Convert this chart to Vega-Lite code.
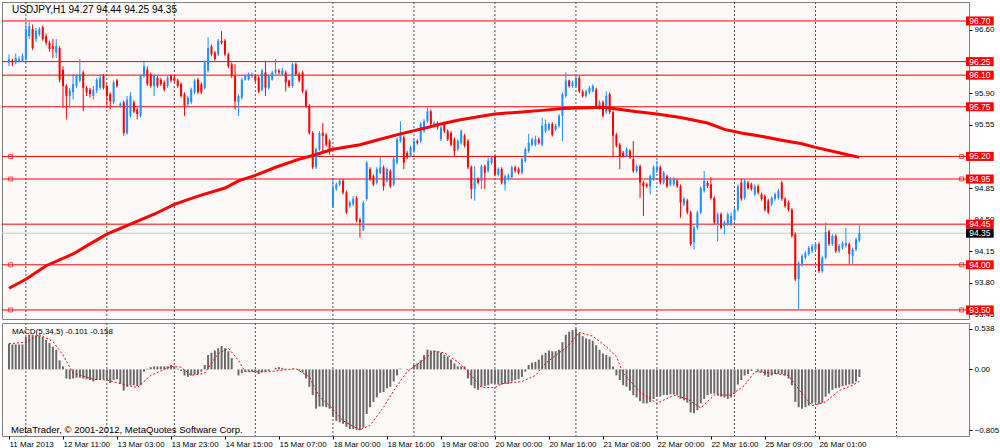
{
  "$schema": "https://vega.github.io/schema/vega-lite/v6.json",
  "description": "USDJPY H1 candlestick chart with MA and MACD(5,34,5) panel, MetaTrader style.",
  "background": "#ffffff",
  "padding": {"left": 1, "top": 1, "right": 0, "bottom": 0},
  "spacing": 2,
  "config": {
    "view": {"stroke": "#808080", "fill": "#fdf9f9"},
    "axis": {"labelFont": "Liberation Sans", "labelFontSize": 8, "labelColor": "#000000", "domain": false, "ticks": true, "tickColor": "#000000", "tickSize": 3, "grid": false},
    "text": {"font": "Liberation Sans"}
  },
  "datasets": {
    "k": [
      {"i":0,"o":96.24,"h":96.33,"l":96.20,"c":96.28,"m":0.34},
      {"i":1,"o":96.26,"h":96.28,"l":96.20,"c":96.24,"m":0.33},
      {"i":2,"o":96.24,"h":96.34,"l":96.22,"c":96.29,"m":0.33},
      {"i":3,"o":96.26,"h":96.31,"l":96.24,"c":96.28,"m":0.33},
      {"i":4,"o":96.26,"h":96.34,"l":96.25,"c":96.31,"m":0.33},
      {"i":5,"o":96.28,"h":96.68,"l":96.26,"c":96.61,"m":0.43},
      {"i":6,"o":96.53,"h":96.69,"l":96.50,"c":96.64,"m":0.46},
      {"i":7,"o":96.61,"h":96.66,"l":96.38,"c":96.40,"m":0.46},
      {"i":8,"o":96.50,"h":96.62,"l":96.47,"c":96.59,"m":0.45},
      {"i":9,"o":96.55,"h":96.63,"l":96.53,"c":96.61,"m":0.45},
      {"i":10,"o":96.63,"h":96.65,"l":96.48,"c":96.50,"m":0.43},
      {"i":11,"o":96.53,"h":96.56,"l":96.43,"c":96.46,"m":0.39},
      {"i":12,"o":96.46,"h":96.48,"l":96.36,"c":96.39,"m":0.35},
      {"i":13,"o":96.42,"h":96.50,"l":96.29,"c":96.39,"m":0.30},
      {"i":14,"o":96.35,"h":96.50,"l":96.29,"c":96.42,"m":0.26},
      {"i":15,"o":96.40,"h":96.42,"l":96.02,"c":96.05,"m":0.12},
      {"i":16,"o":96.16,"h":96.20,"l":95.74,"c":95.98,"m":0.04},
      {"i":17,"o":95.98,"h":96.00,"l":95.61,"c":95.87,"m":-0.12},
      {"i":18,"o":95.87,"h":95.96,"l":95.74,"c":95.93,"m":-0.13},
      {"i":19,"o":95.91,"h":96.11,"l":95.83,"c":96.00,"m":-0.12},
      {"i":20,"o":95.98,"h":96.11,"l":95.96,"c":96.09,"m":-0.11},
      {"i":21,"o":96.04,"h":96.28,"l":96.02,"c":96.11,"m":-0.11},
      {"i":22,"o":96.13,"h":96.15,"l":95.70,"c":95.96,"m":-0.12},
      {"i":23,"o":95.96,"h":95.98,"l":95.87,"c":95.91,"m":-0.13},
      {"i":24,"o":95.94,"h":95.96,"l":95.85,"c":95.89,"m":-0.14},
      {"i":25,"o":95.87,"h":95.98,"l":95.83,"c":95.94,"m":-0.16},
      {"i":26,"o":95.93,"h":96.07,"l":95.90,"c":96.05,"m":-0.14},
      {"i":27,"o":95.96,"h":96.11,"l":95.94,"c":96.07,"m":-0.13},
      {"i":28,"o":96.09,"h":96.11,"l":95.94,"c":95.96,"m":-0.13},
      {"i":29,"o":95.98,"h":96.00,"l":95.74,"c":95.87,"m":-0.14},
      {"i":30,"o":95.89,"h":95.91,"l":95.72,"c":95.81,"m":-0.18},
      {"i":31,"o":95.80,"h":96.04,"l":95.78,"c":96.02,"m":-0.14},
      {"i":32,"o":96.04,"h":96.06,"l":95.96,"c":95.98,"m":-0.13},
      {"i":33,"o":95.76,"h":95.80,"l":95.74,"c":95.78,"m":-0.19},
      {"i":34,"o":95.80,"h":95.82,"l":95.43,"c":95.46,"m":-0.28},
      {"i":35,"o":95.46,"h":95.87,"l":95.44,"c":95.83,"m":-0.23},
      {"i":36,"o":95.65,"h":95.91,"l":95.63,"c":95.87,"m":-0.21},
      {"i":37,"o":95.80,"h":95.82,"l":95.68,"c":95.70,"m":-0.21},
      {"i":38,"o":95.72,"h":95.74,"l":95.61,"c":95.67,"m":-0.22},
      {"i":39,"o":95.65,"h":96.11,"l":95.63,"c":96.09,"m":-0.21},
      {"i":40,"o":96.09,"h":96.26,"l":96.07,"c":96.20,"m":-0.03},
      {"i":41,"o":96.16,"h":96.20,"l":95.98,"c":96.00,"m":0.01},
      {"i":42,"o":96.11,"h":96.13,"l":95.96,"c":95.98,"m":0.03},
      {"i":43,"o":95.98,"h":96.11,"l":95.87,"c":96.09,"m":0.04},
      {"i":44,"o":96.07,"h":96.09,"l":95.96,"c":95.98,"m":0.04},
      {"i":45,"o":96.05,"h":96.07,"l":95.98,"c":96.00,"m":0.04},
      {"i":46,"o":96.02,"h":96.04,"l":95.92,"c":95.94,"m":0.04},
      {"i":47,"o":95.98,"h":96.09,"l":95.96,"c":96.07,"m":0.04},
      {"i":48,"o":96.09,"h":96.11,"l":96.02,"c":96.04,"m":0.06},
      {"i":49,"o":96.07,"h":96.09,"l":96.02,"c":96.04,"m":0.04},
      {"i":50,"o":96.04,"h":96.06,"l":95.96,"c":95.98,"m":0.01},
      {"i":51,"o":96.00,"h":96.02,"l":95.85,"c":95.87,"m":-0.02},
      {"i":52,"o":95.89,"h":95.91,"l":95.65,"c":95.76,"m":-0.08},
      {"i":53,"o":95.78,"h":95.87,"l":95.76,"c":95.85,"m":-0.10},
      {"i":54,"o":95.80,"h":95.96,"l":95.78,"c":95.94,"m":-0.08},
      {"i":55,"o":95.91,"h":96.06,"l":95.89,"c":96.04,"m":-0.07},
      {"i":56,"o":96.05,"h":96.07,"l":95.89,"c":95.91,"m":-0.06},
      {"i":57,"o":96.00,"h":96.02,"l":95.89,"c":95.91,"m":-0.03},
      {"i":58,"o":95.96,"h":96.26,"l":95.94,"c":96.24,"m":0.06},
      {"i":59,"o":96.15,"h":96.52,"l":96.13,"c":96.40,"m":0.19},
      {"i":60,"o":96.42,"h":96.44,"l":96.31,"c":96.33,"m":0.22},
      {"i":61,"o":96.35,"h":96.37,"l":96.26,"c":96.28,"m":0.25},
      {"i":62,"o":96.33,"h":96.50,"l":96.31,"c":96.48,"m":0.28},
      {"i":63,"o":96.48,"h":96.59,"l":96.44,"c":96.46,"m":0.31},
      {"i":64,"o":96.48,"h":96.50,"l":96.31,"c":96.33,"m":0.28},
      {"i":65,"o":96.33,"h":96.35,"l":96.18,"c":96.20,"m":0.24},
      {"i":66,"o":96.22,"h":96.24,"l":96.07,"c":96.09,"m":0.15},
      {"i":67,"o":96.09,"h":96.22,"l":95.72,"c":95.81,"m":0.00},
      {"i":68,"o":95.80,"h":95.89,"l":95.65,"c":95.87,"m":-0.08},
      {"i":69,"o":95.85,"h":96.07,"l":95.83,"c":96.05,"m":-0.05},
      {"i":70,"o":96.05,"h":96.11,"l":96.04,"c":96.09,"m":-0.03},
      {"i":71,"o":96.05,"h":96.13,"l":96.04,"c":96.11,"m":-0.03},
      {"i":72,"o":96.09,"h":96.13,"l":96.07,"c":96.11,"m":-0.03},
      {"i":73,"o":96.09,"h":96.11,"l":96.02,"c":96.04,"m":-0.04},
      {"i":74,"o":96.07,"h":96.09,"l":95.90,"c":95.92,"m":-0.06},
      {"i":75,"o":95.94,"h":96.17,"l":95.92,"c":96.15,"m":-0.04},
      {"i":76,"o":96.13,"h":96.26,"l":95.87,"c":95.96,"m":-0.03},
      {"i":77,"o":95.96,"h":96.11,"l":95.94,"c":96.09,"m":-0.02},
      {"i":78,"o":96.05,"h":96.15,"l":96.04,"c":96.13,"m":0.00},
      {"i":79,"o":96.13,"h":96.28,"l":96.11,"c":96.16,"m":0.02},
      {"i":80,"o":96.15,"h":96.17,"l":96.11,"c":96.13,"m":0.03},
      {"i":81,"o":96.11,"h":96.18,"l":96.09,"c":96.15,"m":0.02},
      {"i":82,"o":96.13,"h":96.15,"l":95.92,"c":96.02,"m":0.01},
      {"i":83,"o":96.04,"h":96.05,"l":95.96,"c":95.98,"m":0.00},
      {"i":84,"o":95.98,"h":96.24,"l":95.96,"c":96.22,"m":0.01},
      {"i":85,"o":96.22,"h":96.24,"l":96.09,"c":96.11,"m":0.00},
      {"i":86,"o":96.11,"h":96.13,"l":96.02,"c":96.04,"m":-0.02},
      {"i":87,"o":96.13,"h":96.15,"l":95.90,"c":95.92,"m":-0.04},
      {"i":88,"o":95.92,"h":95.94,"l":95.74,"c":95.76,"m":-0.12},
      {"i":89,"o":95.76,"h":95.78,"l":95.44,"c":95.46,"m":-0.23},
      {"i":90,"o":95.46,"h":95.48,"l":95.06,"c":95.08,"m":-0.34},
      {"i":91,"o":95.08,"h":95.30,"l":95.06,"c":95.28,"m":-0.52},
      {"i":92,"o":95.28,"h":95.48,"l":95.26,"c":95.46,"m":-0.49},
      {"i":93,"o":95.46,"h":95.57,"l":95.24,"c":95.43,"m":-0.49},
      {"i":94,"o":95.44,"h":95.46,"l":95.31,"c":95.33,"m":-0.50},
      {"i":95,"o":95.37,"h":95.39,"l":95.22,"c":95.28,"m":-0.52},
      {"i":96,"o":94.65,"h":94.96,"l":94.63,"c":94.85,"m":-0.63},
      {"i":97,"o":94.84,"h":94.91,"l":94.82,"c":94.89,"m":-0.68},
      {"i":98,"o":94.89,"h":94.95,"l":94.87,"c":94.93,"m":-0.70},
      {"i":99,"o":94.93,"h":94.95,"l":94.78,"c":94.80,"m":-0.72},
      {"i":100,"o":94.80,"h":94.82,"l":94.56,"c":94.58,"m":-0.76},
      {"i":101,"o":94.65,"h":94.71,"l":94.63,"c":94.69,"m":-0.79},
      {"i":102,"o":94.67,"h":94.76,"l":94.65,"c":94.73,"m":-0.79},
      {"i":103,"o":94.74,"h":94.76,"l":94.47,"c":94.49,"m":-0.80},
      {"i":104,"o":94.50,"h":94.52,"l":94.30,"c":94.47,"m":-0.805},
      {"i":105,"o":94.39,"h":94.71,"l":94.37,"c":94.69,"m":-0.77},
      {"i":106,"o":94.73,"h":95.15,"l":94.71,"c":95.13,"m":-0.59},
      {"i":107,"o":95.06,"h":95.08,"l":94.93,"c":94.95,"m":-0.50},
      {"i":108,"o":94.98,"h":95.00,"l":94.87,"c":94.89,"m":-0.43},
      {"i":109,"o":94.91,"h":95.08,"l":94.89,"c":95.06,"m":-0.37},
      {"i":110,"o":95.02,"h":95.19,"l":95.00,"c":95.08,"m":-0.31},
      {"i":111,"o":95.08,"h":95.10,"l":94.82,"c":94.87,"m":-0.30},
      {"i":112,"o":94.93,"h":95.08,"l":94.91,"c":95.06,"m":-0.25},
      {"i":113,"o":95.04,"h":95.06,"l":94.85,"c":94.87,"m":-0.23},
      {"i":114,"o":94.89,"h":95.19,"l":94.87,"c":95.17,"m":-0.16},
      {"i":115,"o":95.13,"h":95.41,"l":95.11,"c":95.39,"m":-0.08},
      {"i":116,"o":95.37,"h":95.59,"l":95.35,"c":95.46,"m":0.01},
      {"i":117,"o":95.41,"h":95.43,"l":95.06,"c":95.13,"m":0.00},
      {"i":118,"o":95.24,"h":95.26,"l":95.17,"c":95.19,"m":-0.01},
      {"i":119,"o":95.20,"h":95.32,"l":95.19,"c":95.30,"m":0.01},
      {"i":120,"o":95.26,"h":95.39,"l":95.24,"c":95.37,"m":0.06},
      {"i":121,"o":95.37,"h":95.39,"l":95.33,"c":95.35,"m":0.08},
      {"i":122,"o":95.37,"h":95.58,"l":95.35,"c":95.56,"m":0.12},
      {"i":123,"o":95.48,"h":95.61,"l":95.46,"c":95.59,"m":0.19},
      {"i":124,"o":95.59,"h":95.74,"l":95.57,"c":95.70,"m":0.26},
      {"i":125,"o":95.70,"h":95.72,"l":95.54,"c":95.56,"m":0.25},
      {"i":126,"o":95.54,"h":95.59,"l":95.52,"c":95.57,"m":0.25},
      {"i":127,"o":95.57,"h":95.59,"l":95.50,"c":95.52,"m":0.24},
      {"i":128,"o":95.39,"h":95.54,"l":95.37,"c":95.52,"m":0.22},
      {"i":129,"o":95.56,"h":95.58,"l":95.46,"c":95.48,"m":0.19},
      {"i":130,"o":95.48,"h":95.50,"l":95.37,"c":95.39,"m":0.17},
      {"i":131,"o":95.46,"h":95.48,"l":95.31,"c":95.33,"m":0.13},
      {"i":132,"o":95.39,"h":95.41,"l":95.20,"c":95.26,"m":0.08},
      {"i":133,"o":95.28,"h":95.39,"l":95.26,"c":95.37,"m":0.04},
      {"i":134,"o":95.35,"h":95.50,"l":95.33,"c":95.48,"m":0.04},
      {"i":135,"o":95.43,"h":95.45,"l":95.30,"c":95.32,"m":0.04},
      {"i":136,"o":95.37,"h":95.39,"l":95.06,"c":95.08,"m":-0.12},
      {"i":137,"o":95.08,"h":95.10,"l":94.73,"c":94.84,"m":-0.21},
      {"i":138,"o":94.84,"h":95.09,"l":94.71,"c":94.95,"m":-0.25},
      {"i":139,"o":94.95,"h":94.97,"l":94.89,"c":94.91,"m":-0.27},
      {"i":140,"o":94.93,"h":95.11,"l":94.84,"c":95.09,"m":-0.23},
      {"i":141,"o":95.09,"h":95.11,"l":94.84,"c":95.02,"m":-0.22},
      {"i":142,"o":95.04,"h":95.19,"l":95.02,"c":95.15,"m":-0.21},
      {"i":143,"o":95.13,"h":95.20,"l":95.11,"c":95.19,"m":-0.19},
      {"i":144,"o":95.20,"h":95.22,"l":94.98,"c":95.00,"m":-0.19},
      {"i":145,"o":95.00,"h":95.08,"l":94.98,"c":95.06,"m":-0.20},
      {"i":146,"o":95.06,"h":95.08,"l":94.89,"c":94.91,"m":-0.20},
      {"i":147,"o":94.89,"h":95.00,"l":94.82,"c":94.98,"m":-0.19},
      {"i":148,"o":94.95,"h":95.01,"l":94.93,"c":94.99,"m":-0.19},
      {"i":149,"o":94.97,"h":95.10,"l":94.95,"c":95.08,"m":-0.16},
      {"i":150,"o":95.08,"h":95.10,"l":95.02,"c":95.04,"m":-0.14},
      {"i":151,"o":95.06,"h":95.08,"l":95.00,"c":95.02,"m":-0.13},
      {"i":152,"o":95.02,"h":95.19,"l":95.00,"c":95.17,"m":-0.10},
      {"i":153,"o":95.15,"h":95.30,"l":95.13,"c":95.28,"m":-0.03},
      {"i":154,"o":95.26,"h":95.45,"l":95.24,"c":95.35,"m":0.06},
      {"i":155,"o":95.33,"h":95.41,"l":95.31,"c":95.39,"m":0.09},
      {"i":156,"o":95.33,"h":95.43,"l":95.31,"c":95.39,"m":0.10},
      {"i":157,"o":95.39,"h":95.41,"l":95.33,"c":95.35,"m":0.13},
      {"i":158,"o":95.33,"h":95.63,"l":95.31,"c":95.54,"m":0.19},
      {"i":159,"o":95.48,"h":95.61,"l":95.46,"c":95.56,"m":0.22},
      {"i":160,"o":95.50,"h":95.58,"l":95.48,"c":95.56,"m":0.25},
      {"i":161,"o":95.56,"h":95.58,"l":95.42,"c":95.44,"m":0.24},
      {"i":162,"o":95.50,"h":95.56,"l":95.48,"c":95.54,"m":0.24},
      {"i":163,"o":95.54,"h":95.67,"l":95.52,"c":95.65,"m":0.26},
      {"i":164,"o":95.65,"h":95.91,"l":95.37,"c":95.89,"m":0.36},
      {"i":165,"o":95.87,"h":96.13,"l":95.85,"c":96.04,"m":0.46},
      {"i":166,"o":96.04,"h":96.05,"l":95.96,"c":95.98,"m":0.50},
      {"i":167,"o":95.98,"h":96.04,"l":95.96,"c":96.02,"m":0.52},
      {"i":168,"o":95.98,"h":96.11,"l":95.96,"c":96.07,"m":0.538},
      {"i":169,"o":96.07,"h":96.09,"l":95.90,"c":95.92,"m":0.48},
      {"i":170,"o":95.92,"h":95.94,"l":95.85,"c":95.87,"m":0.44},
      {"i":171,"o":95.87,"h":95.94,"l":95.85,"c":95.92,"m":0.41},
      {"i":172,"o":95.91,"h":95.98,"l":95.89,"c":95.96,"m":0.40},
      {"i":173,"o":95.92,"h":96.00,"l":95.91,"c":95.98,"m":0.38},
      {"i":174,"o":95.94,"h":95.96,"l":95.74,"c":95.76,"m":0.32},
      {"i":175,"o":95.74,"h":95.82,"l":95.72,"c":95.80,"m":0.26},
      {"i":176,"o":95.80,"h":95.82,"l":95.63,"c":95.65,"m":0.21},
      {"i":177,"o":95.69,"h":95.92,"l":95.67,"c":95.87,"m":0.19},
      {"i":178,"o":95.89,"h":95.91,"l":95.67,"c":95.69,"m":0.17},
      {"i":179,"o":95.69,"h":95.71,"l":95.19,"c":95.43,"m":0.04},
      {"i":180,"o":95.44,"h":95.46,"l":95.30,"c":95.32,"m":-0.08},
      {"i":181,"o":95.33,"h":95.35,"l":95.06,"c":95.20,"m":-0.14},
      {"i":182,"o":95.24,"h":95.26,"l":95.19,"c":95.20,"m":-0.21},
      {"i":183,"o":95.20,"h":95.30,"l":95.19,"c":95.28,"m":-0.23},
      {"i":184,"o":95.26,"h":95.28,"l":95.17,"c":95.19,"m":-0.28},
      {"i":185,"o":95.17,"h":95.37,"l":95.02,"c":95.04,"m":-0.34},
      {"i":186,"o":95.04,"h":95.11,"l":95.02,"c":95.09,"m":-0.37},
      {"i":187,"o":95.09,"h":95.11,"l":94.74,"c":94.91,"m":-0.42},
      {"i":188,"o":94.91,"h":94.93,"l":94.54,"c":94.87,"m":-0.45},
      {"i":189,"o":94.89,"h":94.91,"l":94.85,"c":94.87,"m":-0.45},
      {"i":190,"o":94.87,"h":95.00,"l":94.78,"c":94.98,"m":-0.43},
      {"i":191,"o":94.95,"h":95.10,"l":94.93,"c":95.08,"m":-0.39},
      {"i":192,"o":95.04,"h":95.15,"l":95.02,"c":95.08,"m":-0.36},
      {"i":193,"o":95.08,"h":95.10,"l":94.89,"c":94.91,"m":-0.36},
      {"i":194,"o":94.91,"h":95.04,"l":94.89,"c":95.02,"m":-0.34},
      {"i":195,"o":94.98,"h":95.00,"l":94.85,"c":94.87,"m":-0.34},
      {"i":196,"o":94.89,"h":94.97,"l":94.87,"c":94.95,"m":-0.33},
      {"i":197,"o":94.89,"h":94.97,"l":94.87,"c":94.95,"m":-0.33},
      {"i":198,"o":94.93,"h":94.95,"l":94.85,"c":94.87,"m":-0.34},
      {"i":199,"o":94.87,"h":94.89,"l":94.52,"c":94.69,"m":-0.39},
      {"i":200,"o":94.67,"h":94.75,"l":94.65,"c":94.73,"m":-0.41},
      {"i":201,"o":94.71,"h":94.73,"l":94.56,"c":94.58,"m":-0.44},
      {"i":202,"o":94.58,"h":94.60,"l":94.21,"c":94.23,"m":-0.57},
      {"i":203,"o":94.25,"h":94.43,"l":94.17,"c":94.41,"m":-0.58},
      {"i":204,"o":94.41,"h":94.60,"l":94.39,"c":94.58,"m":-0.54},
      {"i":205,"o":94.58,"h":94.87,"l":94.56,"c":94.85,"m":-0.45},
      {"i":206,"o":94.82,"h":95.04,"l":94.80,"c":94.93,"m":-0.39},
      {"i":207,"o":94.91,"h":94.93,"l":94.85,"c":94.87,"m":-0.34},
      {"i":208,"o":94.89,"h":94.97,"l":94.72,"c":94.74,"m":-0.32},
      {"i":209,"o":94.74,"h":94.76,"l":94.45,"c":94.47,"m":-0.32},
      {"i":210,"o":94.45,"h":94.58,"l":94.26,"c":94.56,"m":-0.34},
      {"i":211,"o":94.56,"h":94.58,"l":94.39,"c":94.41,"m":-0.36},
      {"i":212,"o":94.43,"h":94.49,"l":94.34,"c":94.47,"m":-0.37},
      {"i":213,"o":94.45,"h":94.58,"l":94.43,"c":94.56,"m":-0.39},
      {"i":214,"o":94.45,"h":94.58,"l":94.43,"c":94.54,"m":-0.37},
      {"i":215,"o":94.50,"h":94.63,"l":94.48,"c":94.61,"m":-0.32},
      {"i":216,"o":94.61,"h":94.89,"l":94.59,"c":94.87,"m":-0.20},
      {"i":217,"o":94.91,"h":94.95,"l":94.71,"c":94.73,"m":-0.14},
      {"i":218,"o":94.74,"h":94.95,"l":94.72,"c":94.93,"m":-0.08},
      {"i":219,"o":94.91,"h":94.93,"l":94.83,"c":94.85,"m":-0.06},
      {"i":220,"o":94.89,"h":94.91,"l":94.82,"c":94.84,"m":-0.02},
      {"i":221,"o":94.78,"h":94.89,"l":94.76,"c":94.87,"m":0.00},
      {"i":222,"o":94.87,"h":94.89,"l":94.78,"c":94.80,"m":-0.03},
      {"i":223,"o":94.78,"h":94.80,"l":94.71,"c":94.73,"m":-0.04},
      {"i":224,"o":94.76,"h":94.78,"l":94.59,"c":94.61,"m":-0.08},
      {"i":225,"o":94.71,"h":94.73,"l":94.56,"c":94.58,"m":-0.10},
      {"i":226,"o":94.67,"h":94.76,"l":94.65,"c":94.74,"m":-0.08},
      {"i":227,"o":94.73,"h":94.80,"l":94.71,"c":94.78,"m":-0.06},
      {"i":228,"o":94.74,"h":94.84,"l":94.72,"c":94.82,"m":-0.06},
      {"i":229,"o":94.91,"h":94.93,"l":94.71,"c":94.73,"m":-0.06},
      {"i":230,"o":94.73,"h":94.75,"l":94.63,"c":94.65,"m":-0.08},
      {"i":231,"o":94.69,"h":94.71,"l":94.59,"c":94.61,"m":-0.12},
      {"i":232,"o":94.61,"h":94.63,"l":94.30,"c":94.32,"m":-0.21},
      {"i":233,"o":94.34,"h":94.36,"l":93.82,"c":93.84,"m":-0.43},
      {"i":234,"o":93.84,"h":94.04,"l":93.51,"c":94.02,"m":-0.50},
      {"i":235,"o":94.00,"h":94.12,"l":93.98,"c":94.10,"m":-0.52},
      {"i":236,"o":94.08,"h":94.15,"l":94.06,"c":94.13,"m":-0.50},
      {"i":237,"o":94.12,"h":94.21,"l":94.10,"c":94.19,"m":-0.48},
      {"i":238,"o":94.15,"h":94.23,"l":94.13,"c":94.21,"m":-0.45},
      {"i":239,"o":94.17,"h":94.25,"l":94.15,"c":94.23,"m":-0.44},
      {"i":240,"o":94.23,"h":94.25,"l":93.91,"c":93.93,"m":-0.46},
      {"i":241,"o":93.93,"h":94.10,"l":93.91,"c":94.08,"m":-0.44},
      {"i":242,"o":94.08,"h":94.47,"l":94.06,"c":94.36,"m":-0.36},
      {"i":243,"o":94.37,"h":94.39,"l":94.21,"c":94.23,"m":-0.32},
      {"i":244,"o":94.23,"h":94.34,"l":94.21,"c":94.32,"m":-0.27},
      {"i":245,"o":94.32,"h":94.34,"l":94.13,"c":94.15,"m":-0.25},
      {"i":246,"o":94.15,"h":94.23,"l":94.13,"c":94.21,"m":-0.24},
      {"i":247,"o":94.19,"h":94.26,"l":94.17,"c":94.24,"m":-0.22},
      {"i":248,"o":94.21,"h":94.41,"l":94.19,"c":94.24,"m":-0.21},
      {"i":249,"o":94.23,"h":94.25,"l":94.01,"c":94.12,"m":-0.20},
      {"i":250,"o":94.10,"h":94.19,"l":94.01,"c":94.17,"m":-0.19},
      {"i":251,"o":94.17,"h":94.30,"l":94.15,"c":94.28,"m":-0.16},
      {"i":252,"o":94.27,"h":94.44,"l":94.25,"c":94.35,"m":-0.101}
    ],
    "ma": [
      {"i":0,"v":93.74},{"i":5,"v":93.84},{"i":11,"v":93.99},{"i":19,"v":94.12},{"i":23,"v":94.21},
      {"i":29,"v":94.34},{"i":36,"v":94.45},{"i":43,"v":94.56},{"i":49,"v":94.67},{"i":56,"v":94.76},
      {"i":64,"v":94.85},{"i":68,"v":94.93},{"i":73,"v":94.99},{"i":79,"v":95.08},{"i":86,"v":95.17},
      {"i":90,"v":95.21},{"i":96,"v":95.28},{"i":104,"v":95.33},{"i":110,"v":95.39},{"i":116,"v":95.45},
      {"i":124,"v":95.52},{"i":128,"v":95.56},{"i":133,"v":95.60},{"i":139,"v":95.64},{"i":144,"v":95.67},
      {"i":151,"v":95.69},{"i":158,"v":95.71},{"i":164,"v":95.73},{"i":171,"v":95.74},{"i":176,"v":95.745},
      {"i":179,"v":95.73},{"i":185,"v":95.70},{"i":192,"v":95.67},{"i":199,"v":95.63},{"i":207,"v":95.57},
      {"i":212,"v":95.50},{"i":217,"v":95.46},{"i":222,"v":95.43},{"i":229,"v":95.38},{"i":235,"v":95.34},
      {"i":239,"v":95.30},{"i":245,"v":95.25},{"i":252,"v":95.19}
    ],
    "sig": [
      {"i":0,"s":0.34},{"i":5,"s":0.36},{"i":9,"s":0.46},{"i":13,"s":0.37},{"i":16,"s":0.19},
      {"i":19,"s":-0.05},{"i":25,"s":-0.13},{"i":29,"s":-0.14},{"i":34,"s":-0.20},{"i":38,"s":-0.24},
      {"i":42,"s":-0.08},{"i":48,"s":0.04},{"i":51,"s":0.03},{"i":54,"s":-0.08},{"i":58,"s":-0.05},
      {"i":62,"s":0.21},{"i":65,"s":0.28},{"i":68,"s":0.12},{"i":70,"s":-0.03},{"i":77,"s":-0.03},
      {"i":85,"s":0.01},{"i":89,"s":-0.10},{"i":92,"s":-0.36},{"i":95,"s":-0.48},{"i":99,"s":-0.68},
      {"i":104,"s":-0.80},{"i":107,"s":-0.74},{"i":111,"s":-0.50},{"i":114,"s":-0.28},{"i":118,"s":-0.03},
      {"i":122,"s":0.10},{"i":126,"s":0.24},{"i":129,"s":0.22},{"i":133,"s":0.10},{"i":136,"s":-0.03},
      {"i":140,"s":-0.24},{"i":144,"s":-0.24},{"i":146,"s":-0.19},{"i":152,"s":-0.16},{"i":156,"s":-0.08},
      {"i":159,"s":0.08},{"i":163,"s":0.22},{"i":165,"s":0.28},{"i":169,"s":0.49},{"i":173,"s":0.44},
      {"i":177,"s":0.30},{"i":180,"s":0.17},{"i":182,"s":-0.05},{"i":187,"s":-0.30},{"i":192,"s":-0.45},
      {"i":197,"s":-0.34},{"i":201,"s":-0.39},{"i":205,"s":-0.51},{"i":209,"s":-0.34},{"i":214,"s":-0.34},
      {"i":218,"s":-0.21},{"i":221,"s":-0.03},{"i":226,"s":-0.05},{"i":231,"s":-0.08},{"i":235,"s":-0.32},
      {"i":238,"s":-0.48},{"i":242,"s":-0.43},{"i":246,"s":-0.28},{"i":250,"s":-0.21},{"i":252,"s":-0.158}
    ],
    "hl": [
      {"p":96.70},{"p":96.25},{"p":96.10},{"p":95.75},{"p":95.20},{"p":94.95},{"p":94.45},{"p":94.00},{"p":93.50}
    ],
    "sq": [
      {"p":95.20},{"p":94.95},{"p":94.00},{"p":93.50}
    ],
    "cur": [
      {"p":94.35}
    ],
    "vg": [
      {"i":5},{"i":29},{"i":49},{"i":73},{"i":96},{"i":120},{"i":144},{"i":168},{"i":192},{"i":215},{"i":239},{"i":263}
    ]
  },
  "vconcat": [
    {
      "width": 967,
      "height": 317,
      "layer": [
        {
          "data": {"name": "vg"},
          "mark": {"type": "rule", "color": "#505050", "strokeDash": [2, 2], "strokeWidth": 1},
          "encoding": {
            "x": {"field": "i", "type": "quantitative", "scale": {"domain": [-0.59, 283], "nice": false, "zero": false}, "axis": null}
          }
        },
        {
          "data": {"name": "cur"},
          "mark": {"type": "rule", "color": "#c8c8c8", "strokeWidth": 1},
          "encoding": {
            "y": {"field": "p", "type": "quantitative", "scale": {"domain": [93.4, 96.91], "nice": false, "zero": false}, "title": null,
              "axis": {"orient": "right", "values": [93.45, 93.8, 94.15, 94.5, 94.85, 95.55, 95.9, 96.6], "format": ".2f", "labelPadding": 2, "labelOverlap": false}}
          }
        },
        {
          "data": {"name": "hl"},
          "mark": {"type": "rule", "color": "#ff0000", "strokeWidth": 1},
          "encoding": {
            "y": {"field": "p", "type": "quantitative", "title": null}
          }
        },
        {
          "data": {"name": "k"},
          "mark": {"type": "rule", "strokeWidth": 1},
          "encoding": {
            "x": {"field": "i", "type": "quantitative", "axis": null},
            "y": {"field": "l", "type": "quantitative", "title": null},
            "y2": {"field": "h"},
            "color": {"condition": {"test": "datum.c >= datum.o", "value": "#1e90ff"}, "value": "#ff0000"}
          }
        },
        {
          "data": {"name": "k"},
          "mark": {"type": "bar", "size": 2},
          "encoding": {
            "x": {"field": "i", "type": "quantitative", "axis": null},
            "y": {"field": "o", "type": "quantitative", "title": null},
            "y2": {"field": "c"},
            "color": {"condition": {"test": "datum.c >= datum.o", "value": "#1e90ff"}, "value": "#ff0000"}
          }
        },
        {
          "data": {"name": "ma"},
          "mark": {"type": "line", "color": "#ff0000", "strokeWidth": 3},
          "encoding": {
            "x": {"field": "i", "type": "quantitative", "axis": null},
            "y": {"field": "v", "type": "quantitative", "title": null}
          }
        },
        {
          "data": {"name": "sq"},
          "mark": {"type": "point", "shape": "square", "size": 16, "filled": false, "color": "#ff0000", "strokeWidth": 1},
          "encoding": {
            "x": {"datum": 0.5, "axis": null},
            "y": {"field": "p", "type": "quantitative", "title": null}
          }
        },
        {
          "data": {"name": "sq"},
          "mark": {"type": "point", "shape": "square", "size": 16, "filled": false, "color": "#ff0000", "strokeWidth": 1},
          "encoding": {
            "x": {"datum": 282.3, "axis": null},
            "y": {"field": "p", "type": "quantitative", "title": null}
          }
        },
        {
          "data": {"name": "hl"},
          "mark": {"type": "rule", "color": "#ff0000", "strokeWidth": 9, "strokeCap": "butt"},
          "encoding": {
            "x": {"datum": 283.6, "axis": null},
            "x2": {"datum": 291.8},
            "y": {"field": "p", "type": "quantitative", "title": null}
          }
        },
        {
          "data": {"name": "cur"},
          "mark": {"type": "rule", "color": "#000000", "strokeWidth": 9, "strokeCap": "butt"},
          "encoding": {
            "x": {"datum": 283.6, "axis": null},
            "x2": {"datum": 291.8},
            "y": {"field": "p", "type": "quantitative", "title": null}
          }
        },
        {
          "data": {"name": "hl"},
          "mark": {"type": "text", "color": "#ffffff", "fontSize": 8.5, "align": "center", "baseline": "middle"},
          "encoding": {
            "x": {"datum": 287.7, "axis": null},
            "y": {"field": "p", "type": "quantitative", "title": null},
            "text": {"field": "p", "format": ".2f"}
          }
        },
        {
          "data": {"name": "cur"},
          "mark": {"type": "text", "color": "#ffffff", "fontSize": 8.5, "align": "center", "baseline": "middle"},
          "encoding": {
            "x": {"datum": 287.7, "axis": null},
            "y": {"field": "p", "type": "quantitative", "title": null},
            "text": {"field": "p", "format": ".2f"}
          }
        },
        {
          "data": {"values": [{}]},
          "mark": {"type": "text", "color": "#000000", "fontSize": 10, "align": "left", "baseline": "middle"},
          "encoding": {
            "x": {"datum": 0.9, "axis": null},
            "y": {"datum": 96.82},
            "text": {"value": "USDJPY,H1  94.27 94.44 94.25 94.35"}
          }
        }
      ]
    },
    {
      "width": 967,
      "height": 113,
      "layer": [
        {
          "data": {"name": "vg"},
          "mark": {"type": "rule", "color": "#505050", "strokeDash": [2, 2], "strokeWidth": 1},
          "encoding": {
            "x": {"field": "i", "type": "quantitative", "scale": {"domain": [-0.59, 283], "nice": false, "zero": false}, "title": null}
          }
        },
        {
          "data": {"name": "k"},
          "mark": {"type": "bar", "size": 2, "color": "#6a6a6a"},
          "encoding": {
            "x": {"field": "i", "type": "quantitative", "title": null,
              "axis": {"values": [0, 16, 32, 48, 64, 80, 96, 112, 128, 144, 160, 176, 192, 208, 224, 240],
                "labelAlign": "left", "labelPadding": 1, "labelFlush": false, "labelOverlap": false, "labelBound": false,
                "labelExpr": "['11 Mar 2013','12 Mar 11:00','13 Mar 03:00','13 Mar 23:00','14 Mar 15:00','15 Mar 07:00','18 Mar 00:00','18 Mar 16:00','19 Mar 08:00','20 Mar 00:00','20 Mar 16:00','21 Mar 08:00','22 Mar 00:00','22 Mar 16:00','25 Mar 09:00','26 Mar 01:00'][round(datum.value / 16)]"}},
            "y": {"field": "m", "type": "quantitative", "scale": {"domain": [-0.881, 0.614], "nice": false, "zero": false}, "title": null,
              "axis": {"orient": "right", "values": [0.538, 0, -0.805], "labelPadding": 2, "labelOverlap": false,
                "labelExpr": "datum.value == 0 ? '0.00' : format(datum.value, '.3f')"}},
            "y2": {"datum": 0}
          }
        },
        {
          "data": {"name": "sig"},
          "mark": {"type": "line", "color": "#ff0000", "strokeWidth": 1, "strokeDash": [2, 2]},
          "encoding": {
            "x": {"field": "i", "type": "quantitative", "title": null},
            "y": {"field": "s", "type": "quantitative", "title": null}
          }
        },
        {
          "data": {"values": [{}]},
          "mark": {"type": "text", "color": "#000000", "fontSize": 8, "align": "left", "baseline": "middle"},
          "encoding": {
            "x": {"datum": 0.9},
            "y": {"datum": 0.5},
            "text": {"value": "MACD(5,34,5) -0.101 -0.158"}
          }
        },
        {
          "data": {"values": [{}]},
          "mark": {"type": "text", "color": "#000000", "fontSize": 9.5, "align": "left", "baseline": "middle"},
          "encoding": {
            "x": {"datum": 0.6},
            "y": {"datum": -0.8},
            "text": {"value": "MetaTrader, © 2001-2012, MetaQuotes Software Corp."}
          }
        }
      ]
    }
  ]
}
